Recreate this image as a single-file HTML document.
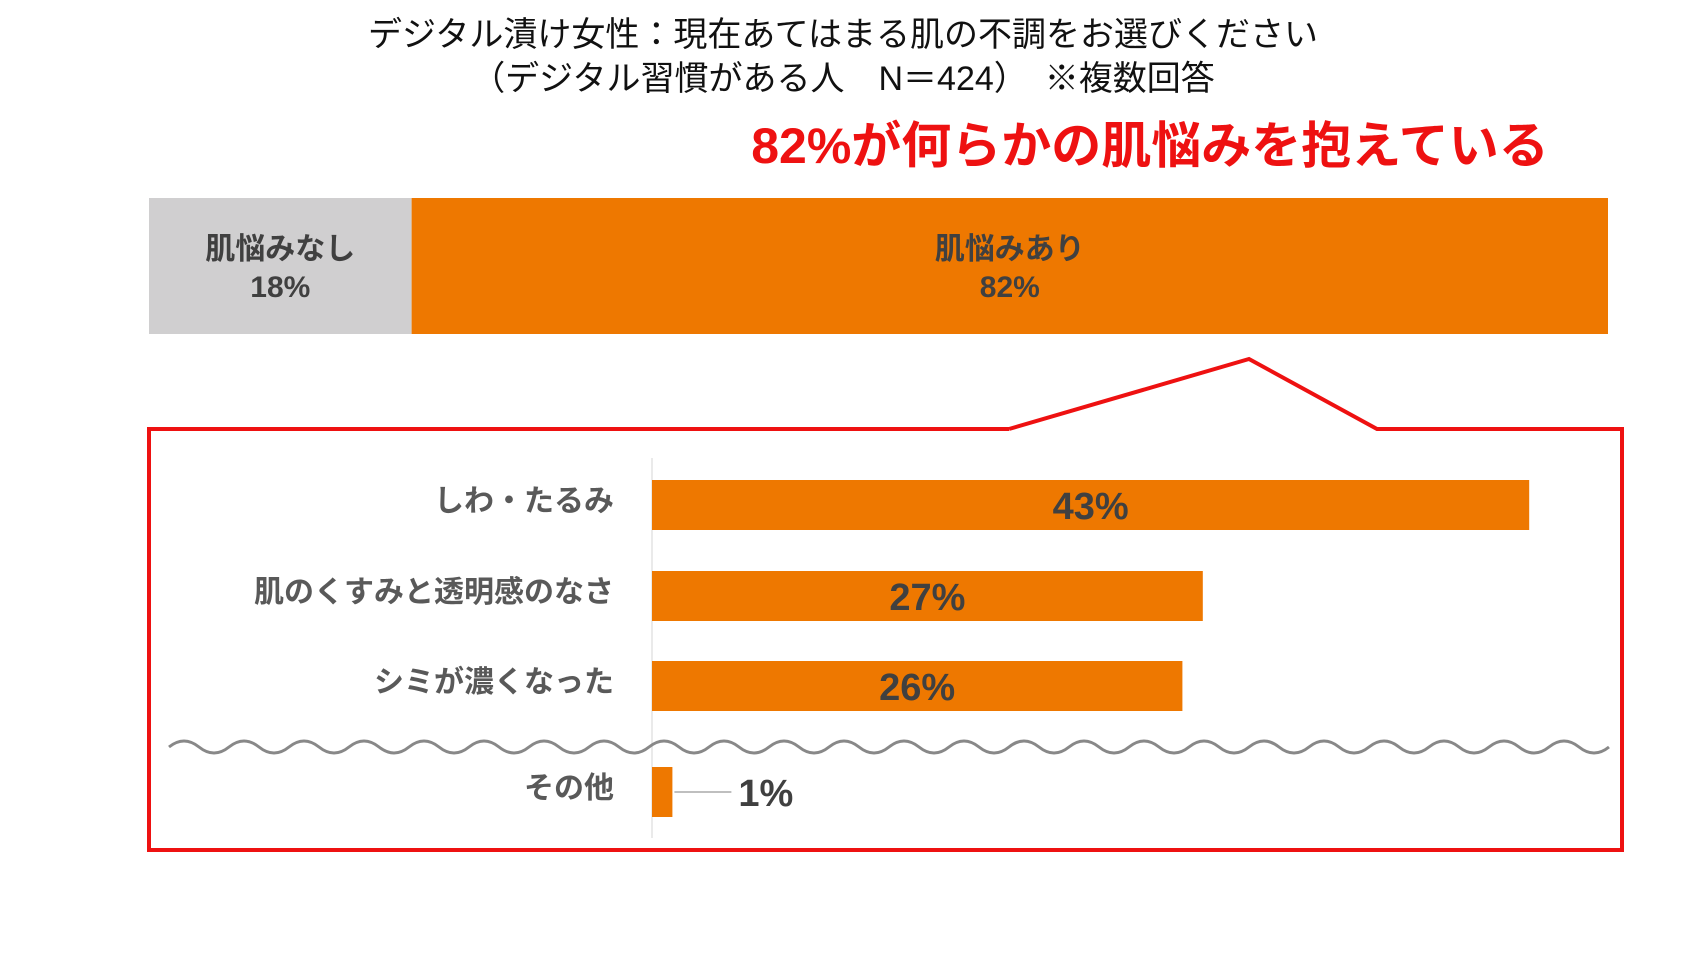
<!DOCTYPE html>
<html><head><meta charset="utf-8"><style>
body{margin:0;width:1689px;height:960px;background:#fff;overflow:hidden;font-family:"Liberation Sans","Noto Sans CJK JP",sans-serif}
</style></head><body>
<svg width="1689" height="960" viewBox="0 0 1689 960" style="position:absolute;left:0;top:0">
<g font-family="Liberation Sans, Noto Sans CJK JP, sans-serif">
<text x="843" y="46" font-size="34" fill="#111" text-anchor="middle">デジタル漬け女性：現在あてはまる肌の不調をお選びください</text>
<text x="843" y="90" font-size="34" fill="#111" text-anchor="middle">（デジタル習慣がある人　N＝424）　※複数回答</text>
<text x="1150" y="163" font-size="50" font-weight="bold" fill="#ee1111" text-anchor="middle">82%が何らかの肌悩みを抱えている</text>
<g id="top"></g>
<path d="M1009,429 L149,429 L149,850 L1622,850 L1622,429 L1377,429 L1249,359 L1009,429" fill="none" stroke="#ee1111" stroke-width="4"/>
<line x1="652" y1="458" x2="652" y2="838" stroke="#e4e4e4" stroke-width="1.5"/>
<g id="bars"></g>
<path id="wave" fill="none" stroke="#888" stroke-width="3"/>
</g>
</svg>
<script>
const topLabels=["肌悩みなし","肌悩みあり"];
const topValues=[18,82];
const categories=["しわ・たるみ","肌のくすみと透明感のなさ","シミが濃くなった","その他"];
const values=[43,27,26,1];
const NS="http://www.w3.org/2000/svg";
function mk(t,a,p){const e=document.createElementNS(NS,t);for(const k in a)e.setAttribute(k,a[k]);p.appendChild(e);return e;}
// top stacked bar
const tg=document.getElementById('top');
const tx0=149,tx1=1608,ty=198,th=136;
const tsum=topValues.reduce((a,b)=>a+b,0);
let cx=tx0;
topValues.forEach((v,i)=>{
  const w=(tx1-tx0)*v/tsum;
  const r=mk('rect',{x:cx,y:ty,width:w,height:th,fill:i==0?'#d0cfd0':'#ee7800'},tg);
  
  
  const t1=mk('text',{x:cx+w/2,y:259,'font-size':30,'font-weight':'bold',fill:'#404040','text-anchor':'middle'},tg);
  t1.textContent=topLabels[i];
  
  
  const t2=mk('text',{x:cx+w/2,y:297,'font-size':30,'font-weight':'bold',fill:'#404040','text-anchor':'middle'},tg);
  t2.textContent=v+'%';
  
  
  cx+=w;
});
// inner bars
const bg=document.getElementById('bars');
const x0=652,pxPer=20.4;
const ys=[480,571,661,767],bh=50;
categories.forEach((c,i)=>{
  const w=values[i]*pxPer;
  const r=mk('rect',{x:x0,y:ys[i],width:w,height:bh,fill:'#ee7800'},bg);
  
  
  const l=mk('text',{x:614,y:ys[i]+bh/2+6,'font-size':30,'font-weight':'bold',fill:'#595959','text-anchor':'end'},bg);
  l.textContent=c;
  
  
  let t;
  if(w>120){
    t=mk('text',{x:x0+w/2,y:ys[i]+bh/2+14,'font-size':38,'font-weight':'bold',fill:'#404040','text-anchor':'middle'},bg);
  }else{
    const ln=mk('line',{x1:x0+w+2,y1:ys[i]+bh/2,x2:x0+w+59,y2:ys[i]+bh/2,stroke:'#aaa','stroke-width':1.5},bg);
    
    
    t=mk('text',{x:x0+w+66,y:ys[i]+bh/2+14,'font-size':38,'font-weight':'bold',fill:'#404040'},bg);
  }
  t.textContent=values[i]+'%';
  
  
});
// wave
let d='M169,747';
for(let x=169;x<1608;x+=30){const up=((x-169)/30)%2==0;d+=' Q'+(x+15)+','+(up?735:759)+' '+(x+30)+',747';}
document.getElementById('wave').setAttribute('d',d);
</script>
</body></html>
